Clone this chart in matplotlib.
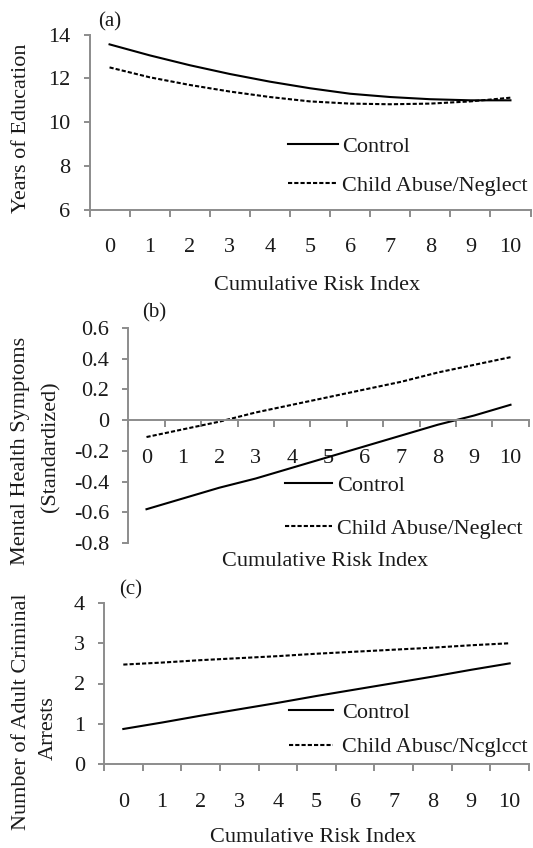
import matplotlib
matplotlib.use('Agg')
import matplotlib.pyplot as plt
from matplotlib.ticker import MultipleLocator, FixedLocator, NullFormatter

# cumulative risk index categories
risk = list(range(11))
risk_labels = [str(r) for r in risk]

# (a) years of education
edu_control = [13.55, 13.05, 12.6, 12.2, 11.85, 11.55, 11.3, 11.15, 11.05, 11.0, 11.0]
edu_abuse = [12.5, 12.05, 11.7, 11.4, 11.15, 10.95, 10.85, 10.82, 10.85, 10.95, 11.12]

# (b) mental health symptoms (standardized)
mh_control = [-0.58, -0.51, -0.44, -0.38, -0.31, -0.24, -0.17, -0.10, -0.03, 0.03, 0.10]
mh_abuse = [-0.11, -0.06, -0.01, 0.05, 0.10, 0.15, 0.20, 0.25, 0.31, 0.36, 0.41]

# (c) adult criminal arrests
arr_control = [0.87, 1.03, 1.20, 1.36, 1.52, 1.69, 1.85, 2.01, 2.17, 2.34, 2.50]
arr_abuse = [2.47, 2.52, 2.58, 2.63, 2.68, 2.74, 2.79, 2.84, 2.89, 2.95, 3.00]

plt.rcParams['font.family'] = ['Liberation Serif', 'DejaVu Serif']
plt.rcParams['font.size'] = 16

W, H = 533, 848
AX_GRAY = '#8c8c8c'
TXT = '#1a1a1a'
TICK_LEN = 6.5 * 0.72


def box(l, t, r, b):
    return [l / W, 1 - b / H, (r - l) / W, (b - t) / H]


def ftext(x, y, s, **kw):
    kw.setdefault('ha', 'center')
    kw.setdefault('va', 'center')
    kw.setdefault('color', TXT)
    fig.text(x / W, 1 - y / H, s, **kw)


def style_axes(ax, ylim, ystep, xpad):
    ax.set_xlim(-0.5, 10.5)
    ax.set_ylim(*ylim)
    ax.yaxis.set_major_locator(MultipleLocator(ystep))
    ax.xaxis.set_major_locator(FixedLocator(risk))
    ax.set_xticklabels(risk_labels)
    ax.xaxis.set_minor_locator(FixedLocator([r - 0.5 for r in risk] + [10.5]))
    ax.xaxis.set_minor_formatter(NullFormatter())
    ax.tick_params(axis='x', which='major', length=0, pad=xpad, labelcolor=TXT)
    ax.tick_params(axis='x', which='minor', length=TICK_LEN, width=1.4, color=AX_GRAY, direction='out')
    ax.tick_params(axis='y', length=TICK_LEN, width=1.4, color=AX_GRAY, pad=9, labelcolor=TXT)
    for s in ['top', 'right']:
        ax.spines[s].set_visible(False)
    for s in ['left', 'bottom']:
        ax.spines[s].set_color(AX_GRAY)
        ax.spines[s].set_linewidth(1.4)
    ax.patch.set_alpha(0)


def draw_lines(ax, control, abuse, anchor, labels, hlen, hpad, lspace):
    ax.plot(risk, control, color='black', lw=1.5, label=labels[0])
    ax.plot(risk, abuse, color='black', lw=1.5, dashes=(2, 1), label=labels[1])
    ax.legend(loc='upper left', bbox_to_anchor=(anchor[0] / W, 1 - anchor[1] / H),
              bbox_transform=fig.transFigure, frameon=False, borderpad=0, borderaxespad=0,
              handlelength=hlen, handletextpad=hpad, labelspacing=lspace, labelcolor=TXT)


fig = plt.figure(figsize=(W / 100, H / 100), dpi=100)

# panel (a)
ax1 = fig.add_axes(box(89.5, 34.5, 530.5, 210))
style_axes(ax1, (6, 14), 2, 20)
draw_lines(ax1, edu_control, edu_abuse, (288, 136), ['Control', 'Child Abuse/Neglect'], 2.25, 0.18, 0.86)
ftext(110, 22, '(a)', fontsize=15)
ftext(22, 128, 'Years of Education', rotation=90)
ftext(317, 286, 'Cumulative Risk Index')

# panel (b)
ax2 = fig.add_axes(box(128.3, 328, 528.7, 543))
style_axes(ax2, (-0.8, 0.6), 0.2, 20.7)
ax2.spines['bottom'].set_position(('data', 0))
ax2.yaxis.set_major_formatter(plt.FuncFormatter(lambda v, p: '0' if abs(v) < 1e-9 else f'{v:.1f}'))
draw_lines(ax2, mh_control, mh_abuse, (285, 475), ['Control', 'Child Abuse/Neglect'], 2.1, 0.25, 1.02)
ftext(154, 313, '(b)', fontsize=15)
ftext(21, 451, 'Mental Health Symptoms', rotation=90)
ftext(51, 447, '(Standardized)', rotation=90)
ftext(325, 561, 'Cumulative Risk Index')

# panel (c)
ax3 = fig.add_axes(box(104, 603, 529, 764))
style_axes(ax3, (0, 4), 1, 20.8)
draw_lines(ax3, arr_control, arr_abuse, (289, 702), ['Control', 'Child Abusc/Ncglcct'], 2.0, 0.39, 0.64)
ftext(131, 590, '(c)', fontsize=15)
ftext(22, 712, 'Number of Adult Criminal', rotation=90)
ftext(48, 728, 'Arrests', rotation=90)
ftext(313, 838, 'Cumulative Risk Index')

fig.savefig('out.png', dpi=100, facecolor='white')
